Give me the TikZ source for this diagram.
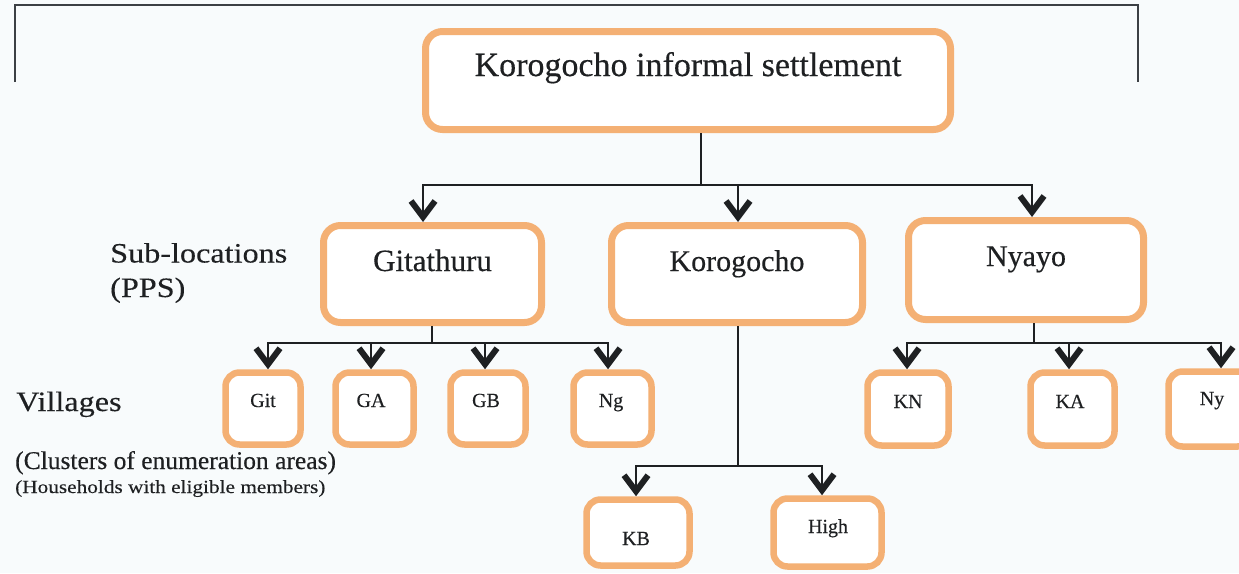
\documentclass[tikz,border=0pt]{standalone}
\usepackage{fontspec}
\setmainfont{Liberation Serif}
\newfontfamily\boxfont[FakeBold=0.35]{Liberation Serif}
\newfontfamily\labfont[FakeStretch=1.15,FakeBold=0.25]{Liberation Serif}
\usetikzlibrary{arrows.meta,calc}
\definecolor{boxorange}{RGB}{244,176,116}
\definecolor{ink}{RGB}{30,32,34}
\definecolor{paper}{RGB}{248,251,252}
\definecolor{framegray}{RGB}{60,64,68}
\tikzset{
  bigbox/.style={draw=boxorange, line width=7pt, rounded corners=17pt, fill=white, inner sep=0pt},
  smallbox/.style={draw=boxorange, line width=6.5pt, rounded corners=14pt, fill=white, inner sep=0pt},
  boxtxt/.style={anchor=base, inner sep=0pt, text=ink, font=\boxfont},
  sidetxt/.style={anchor=base west, inner sep=0pt, text=ink, font=\labfont},
  conn/.style={draw=ink, line width=2pt},
  arr/.style={-{Straight Barb[length=16pt,width=24pt,line width=6pt]}},
}
\begin{document}
\begin{tikzpicture}[x=1pt,y=-1pt]
  \useasboundingbox (0,0) rectangle (1239,573);
  \clip (0,0) rectangle (1239,573);
  \fill[paper] (0,0) rectangle (1239,573);

  % page frame above the chart
  \draw[framegray, line width=1.5pt] (15,82) -- (15,5) -- (1138,5) -- (1138,82);

  % boxes
  \node[bigbox, minimum width=525pt, minimum height=98pt] (top) at (688,80.5) {};
  \node[bigbox, minimum width=218pt, minimum height=97pt] (git) at (432.5,274) {};
  \node[bigbox, minimum width=251pt, minimum height=97pt] (kor) at (737,274) {};
  \node[bigbox, minimum width=235pt, minimum height=99pt] (nya) at (1026,270) {};

  \node[smallbox, minimum width=75pt, minimum height=72pt] (vgit) at (263,408.5) {};
  \node[smallbox, minimum width=78pt, minimum height=72pt] (vga) at (374.5,408.5) {};
  \node[smallbox, minimum width=75pt, minimum height=72pt] (vgb) at (488,408.5) {};
  \node[smallbox, minimum width=78pt, minimum height=72pt] (vng) at (612.5,408.5) {};

  \node[smallbox, minimum width=81pt, minimum height=73pt] (kn) at (908,409) {};
  \node[smallbox, minimum width=84pt, minimum height=73pt] (ka) at (1072.5,409) {};
  \node[smallbox, minimum width=83pt, minimum height=75pt] (ny) at (1210,409) {};

  \node[smallbox, minimum width=103pt, minimum height=66pt] (kb) at (638,532.5) {};
  \node[smallbox, minimum width=108pt, minimum height=68pt] (high) at (827.5,532.5) {};

  % box texts
  \node[boxtxt, font=\boxfont\fontsize{34}{40}\selectfont] (ttop) at (688,76) {Korogocho informal settlement};
  \node[boxtxt, font=\boxfont\fontsize{31}{36}\selectfont] (tgit) at (432.5,271) {Gitathuru};
  \node[boxtxt, font=\boxfont\fontsize{30}{36}\selectfont] (tkor) at (737,271) {Korogocho};
  \node[boxtxt, font=\boxfont\fontsize{30}{36}\selectfont] (tnya) at (1026,266) {Nyayo};

  \node[boxtxt, font=\boxfont\fontsize{20}{24}\selectfont] (tvgit) at (263,407) {Git};
  \node[boxtxt, font=\boxfont\fontsize{20}{24}\selectfont] (tvga) at (371,407) {GA};
  \node[boxtxt, font=\boxfont\fontsize{20}{24}\selectfont] (tvgb) at (486,407) {GB};
  \node[boxtxt, font=\boxfont\fontsize{20}{24}\selectfont] (tvng) at (611,407) {Ng};
  \node[boxtxt, font=\boxfont\fontsize{20}{24}\selectfont] (tkn) at (908,408) {KN};
  \node[boxtxt, font=\boxfont\fontsize{20}{24}\selectfont] (tka) at (1070,408) {KA};
  \node[boxtxt, font=\boxfont\fontsize{20}{24}\selectfont] (tny) at (1212,405) {Ny};
  \node[boxtxt, font=\boxfont\fontsize{20}{24}\selectfont] (tkb) at (636,545) {KB};
  \node[boxtxt, font=\boxfont\fontsize{20}{24}\selectfont] (thigh) at (828,533) {High};

  % level labels on the left
  \node[sidetxt, font=\labfont\fontsize{28}{32}\selectfont] (lsub) at (110,262.5) {Sub-locations};
  \node[sidetxt, font=\labfont\fontsize{28}{32}\selectfont] (lpps) at (110,297) {(PPS)};
  \node[sidetxt, font=\labfont\fontsize{28}{32}\selectfont] (lvil) at (16,411) {Villages};
  \node[sidetxt, font=\boxfont\fontsize{25.5}{29}\selectfont] (lclu) at (15,469) {(Clusters of enumeration areas)};
  \node[sidetxt, font=\labfont\fontsize{18.5}{22}\selectfont] (lhh) at (15,493) {(Households with eligible members)};

  % junction points of the connector buses
  \coordinate (jt) at (701,185);
  \coordinate (jg) at (432,343);
  \coordinate (jk) at (738,466);
  \coordinate (jn) at (1034,343);

  % settlement -> sub-locations
  \draw[conn] ([xshift=13pt]top.south) -- (jt);
  \draw[conn,arr] (jt) -| ([xshift=-9.5pt]git.north);
  \draw[conn,arr] (jt) -| ([xshift=1pt]kor.north);
  \draw[conn,arr] (jt) -| ([xshift=6pt]nya.north);

  % Gitathuru -> villages
  \draw[conn] ([xshift=-0.5pt]git.south) -- (jg);
  \draw[conn,arr] (jg) -| ([xshift=5pt]vgit.north);
  \draw[conn,arr] (jg) -| ([xshift=-3.5pt]vga.north);
  \draw[conn,arr] (jg) -| ([xshift=-3pt]vgb.north);
  \draw[conn,arr] (jg) -| ([xshift=-4.5pt]vng.north);

  % Korogocho -> villages
  \draw[conn] ([xshift=1pt]kor.south) -- (jk);
  \draw[conn,arr] (jk) -| ([xshift=-2pt]kb.north);
  \draw[conn,arr] (jk) -| ([xshift=-5.5pt]high.north);

  % Nyayo -> villages
  \draw[conn] ([xshift=8pt]nya.south) -- (jn);
  \draw[conn,arr] (jn) -| ([xshift=-1pt]kn.north);
  \draw[conn,arr] (jn) -| ([xshift=-3.5pt]ka.north);
  \draw[conn,arr] (jn) -| ([xshift=11pt]ny.north);
\end{tikzpicture}
\end{document}
